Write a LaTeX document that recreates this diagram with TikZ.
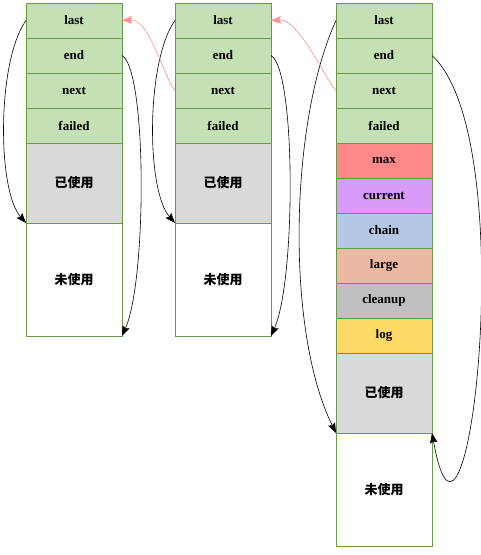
\documentclass[tikz,border=0pt]{standalone}
\usepackage{fontspec}
\setmainfont{Liberation Serif}
\newfontfamily\cjk{Noto Sans CJK SC}
\usetikzlibrary{positioning,arrows.meta}

\definecolor{edge}{HTML}{6A9A48}
\definecolor{head}{HTML}{C5E0B4}
\definecolor{usedc}{HTML}{D9D9D9}
\definecolor{maxc}{HTML}{FF8888}
\definecolor{curc}{HTML}{D99BF8}
\definecolor{chainc}{HTML}{B4C7E7}
\definecolor{largec}{HTML}{EBB8A3}
\definecolor{cleanc}{HTML}{BFBFBF}
\definecolor{logc}{HTML}{FFD966}
\definecolor{backc}{HTML}{FF9090}

\tikzstyle{cell}=[draw=edge, line width=0.8pt, fill=head, minimum width=96pt, minimum height=35pt, inner sep=0pt, outer sep=0pt, font=\bfseries\fontsize{13}{15}\selectfont]
\tikzstyle{used}=[cell, fill=usedc, minimum height=80pt, font=\cjk\bfseries\fontsize{13}{15}\selectfont]
\tikzstyle{free}=[used, fill=white, minimum height=113pt]
\tikzstyle{arr}=[-{Stealth[length=10pt,width=7.5pt,inset=1.5pt]}, line width=0.6pt]
\tikzstyle{back}=[arr, draw=backc]

\begin{document}
\begin{tikzpicture}[x=1pt,y=-1pt]
\useasboundingbox (0,0) rectangle (481,555);

% BUFFER 1

\node[cell] (a0) at (74,20.5) {last};
\node[cell,below=0pt of a0] (a1) {end};
\node[cell,below=0pt of a1] (a2) {next};
\node[cell,below=0pt of a2] (a3) {failed};
\node[used,below=0pt of a3] (a4) {已使用};
\node[free,below=0pt of a4] (a5) {未使用};

\draw[arr] (a0.west) .. controls +(-29,40) and +(-29,-33) .. (a4.south west);
\draw[arr] (a1.east) .. controls +(25,14) and +(25,-56) .. (a5.south east);

% BUFFER 2

\node[cell] (b0) at (223,20.5) {last};
\node[cell,below=0pt of b0] (b1) {end};
\node[cell,below=0pt of b1] (b2) {next};
\node[cell,below=0pt of b2] (b3) {failed};
\node[used,below=0pt of b3] (b4) {已使用};
\node[free,below=0pt of b4] (b5) {未使用};

\draw[arr] (b0.west) .. controls +(-29,40) and +(-29,-33) .. (b4.south west);
\draw[arr] (b1.east) .. controls +(25,14) and +(25,-56) .. (b5.south east);
\draw[back] (b2.west) .. controls +(-10,-10) and +(28,-2) .. (a0.east);

% BUFFER 3

\node[cell] (c0) at (384,20.5) {last};
\node[cell,below=0pt of c0] (c1) {end};
\node[cell,below=0pt of c1] (c2) {next};
\node[cell,below=0pt of c2] (c3) {failed};
\node[cell,fill=maxc,below=0pt of c3] (c4) {max};
\node[cell,fill=curc,below=0pt of c4] (c5) {current};
\node[cell,fill=chainc,below=0pt of c5] (c6) {chain};
\node[cell,fill=largec,below=0pt of c6] (c7) {large};
\node[cell,fill=cleanc,below=0pt of c7] (c8) {cleanup};
\node[cell,fill=logc,below=0pt of c8] (c9) {log};
\node[used,below=0pt of c9] (c10) {已使用};
\node[free,below=0pt of c10] (c11) {未使用};

\draw[arr] (c0.west) .. controls +(-46,100) and +(-51,-103) .. (c10.south west);
\draw[arr] (c1.east) .. controls +(92,84) and +(34,190) .. (c10.south east);
\draw[back] (c2.west) .. controls +(-10,-10) and +(28,-2) .. (b0.east);

\end{tikzpicture}
\end{document}
